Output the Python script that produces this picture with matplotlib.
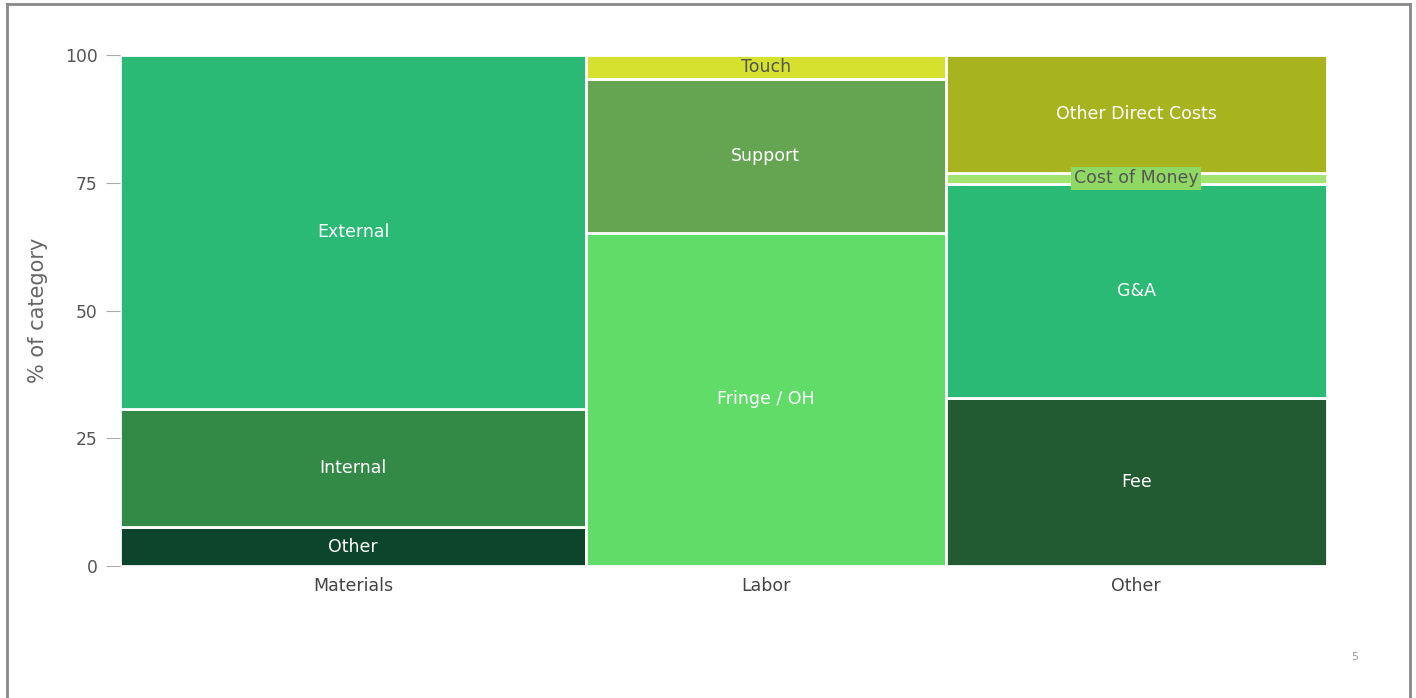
import matplotlib.pyplot as plt
from matplotlib.lines import Line2D

categories = ['Materials', 'Labor', 'Other']
cat_widths = [38.6, 29.8, 31.6]  # share of total, %

seg_names = [
    ['Other', 'Internal', 'External'],
    ['Fringe / OH', 'Support', 'Touch'],
    ['Fee', 'G&A', 'Cost of Money', 'Other Direct Costs'],
]
seg_values = [
    [7.6, 23.1, 69.3],
    [65.2, 30.1, 4.7],
    [32.9, 41.9, 2.1, 23.1],
]
seg_colors = [
    ['#0d452c', '#338a47', '#2aba76'],
    ['#62dc69', '#65a552', '#d5e02f'],
    ['#225a31', '#2aba76', '#a3e36f', '#a8b320'],
]
dark_text = {'Touch', 'Cost of Money'}

fig = plt.figure(figsize=(14.16, 6.98), dpi=100)
ax = fig.add_axes([120 / 1416, 1 - 566 / 698, 1207 / 1416, 511 / 698])

left = 0
centers = []
for i, cat in enumerate(categories):
    w = cat_widths[i]
    bottom = 0
    for name, val, col in zip(seg_names[i], seg_values[i], seg_colors[i]):
        ax.bar(left, val, width=w, bottom=bottom, align='edge', color=col,
               edgecolor='white', linewidth=2)
        cx = left + w / 2
        cy = bottom + val / 2
        if name in dark_text:
            kw = dict(color='#555555')
            if name == 'Cost of Money':
                kw['bbox'] = dict(boxstyle='square,pad=0.15', fc='#8fd862', ec='none')
        else:
            kw = dict(color='white')
        ax.text(cx, cy, name, ha='center', va='center', fontsize=12.5, **kw)
        bottom += val
    centers.append(left + w / 2)
    left += w

ax.set_xlim(0, 100)
ax.set_ylim(0, 100)
ax.set_xticks(centers)
ax.set_xticklabels(categories)
ax.set_yticks([0, 25, 50, 75, 100])
ax.tick_params(axis='x', length=0, labelsize=12.5, labelcolor='#444444', pad=8)
ax.tick_params(axis='y', length=10, color='#aaaaaa', labelsize=12.3,
               labelcolor='#555555', pad=6)
for s in ax.spines.values():
    s.set_visible(False)
ax.set_ylabel('% of category', fontsize=15, color='#666666', labelpad=12)

# slide frame and page number
fig.add_artist(Line2D([7 / 1416, 7 / 1416], [0, 1 - 4 / 698], color='#888888', lw=2))
fig.add_artist(Line2D([7 / 1416, 1410 / 1416], [1 - 4 / 698, 1 - 4 / 698], color='#888888', lw=2))
fig.add_artist(Line2D([1410 / 1416, 1410 / 1416], [0, 1 - 4 / 698], color='#888888', lw=2))
fig.text(1355 / 1416, 1 - 657 / 698, '5', fontsize=8, color='#999999', ha='center', va='center')

fig.savefig('out.png', dpi=100)
